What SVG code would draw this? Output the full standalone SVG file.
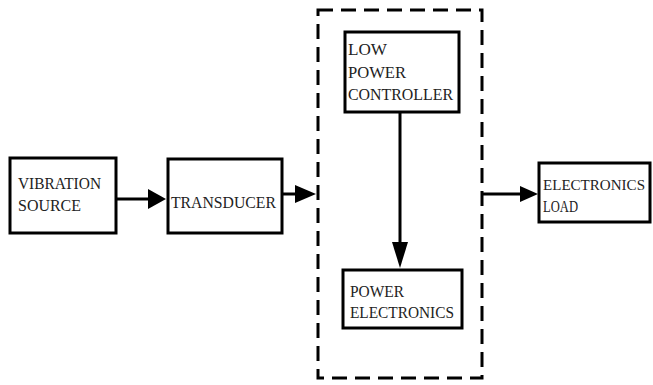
<svg xmlns="http://www.w3.org/2000/svg" width="653" height="385" viewBox="0 0 653 385">
<style>
.box{fill:#fff;stroke:#000;stroke-width:3}
.t{font-size:17px;fill:#222}
.ln{stroke:#000;stroke-width:3;fill:none}
.dash{stroke:#000;stroke-width:3;fill:none;stroke-dasharray:15 8}
.ah{fill:#000}
</style>
<rect width="653" height="385" fill="#fff"/>
<g id="group-box">
<rect class="dash" x="318" y="10" width="164" height="368"/>
</g>
<g font-family="Liberation Serif, Times New Roman, serif">
<g id="vibration-source">
<rect class="box" x="10" y="158" width="106" height="75"/>
<text class="t" x="18" y="189" textLength="83" lengthAdjust="spacingAndGlyphs">VIBRATION</text>
<text class="t" x="18" y="211" textLength="63" lengthAdjust="spacingAndGlyphs">SOURCE</text>
</g>
<g id="transducer">
<rect class="box" x="168" y="159" width="114" height="74"/>
<text class="t" x="171" y="208" textLength="105" lengthAdjust="spacingAndGlyphs">TRANSDUCER</text>
</g>
<g id="low-power-controller">
<rect class="box" x="345" y="32" width="114" height="80"/>
<text class="t" x="348" y="55" textLength="39" lengthAdjust="spacingAndGlyphs">LOW</text>
<text class="t" x="348" y="78" textLength="58" lengthAdjust="spacingAndGlyphs">POWER</text>
<text class="t" x="348" y="100" textLength="105" lengthAdjust="spacingAndGlyphs">CONTROLLER</text>
</g>
<g id="power-electronics">
<rect class="box" x="343" y="270" width="119" height="58"/>
<text class="t" x="350" y="297" textLength="54" lengthAdjust="spacingAndGlyphs">POWER</text>
<text class="t" x="350" y="318" textLength="104" lengthAdjust="spacingAndGlyphs">ELECTRONICS</text>
</g>
<g id="electronics-load">
<rect class="box" x="539" y="163" width="111" height="59"/>
<text x="543" y="190" font-size="15.5" fill="#222" textLength="102" lengthAdjust="spacingAndGlyphs">ELECTRONICS</text>
<text class="t" x="543" y="212" textLength="35" lengthAdjust="spacingAndGlyphs">LOAD</text>
</g>
</g>
<g id="connectors">
<line class="ln" x1="116" y1="199" x2="150" y2="199"/>
<polygon class="ah" points="148,189 166,199 148,209"/>
<line class="ln" x1="282" y1="194" x2="297" y2="194"/>
<polygon class="ah" points="295,185 316,194 295,203"/>
<line class="ln" x1="482" y1="194" x2="522" y2="194"/>
<polygon class="ah" points="520,186 538,194 520,202"/>
<line class="ln" x1="400" y1="112" x2="400" y2="244"/>
<polygon class="ah" points="392,242 408,242 400,268"/>
</g>
</svg>
